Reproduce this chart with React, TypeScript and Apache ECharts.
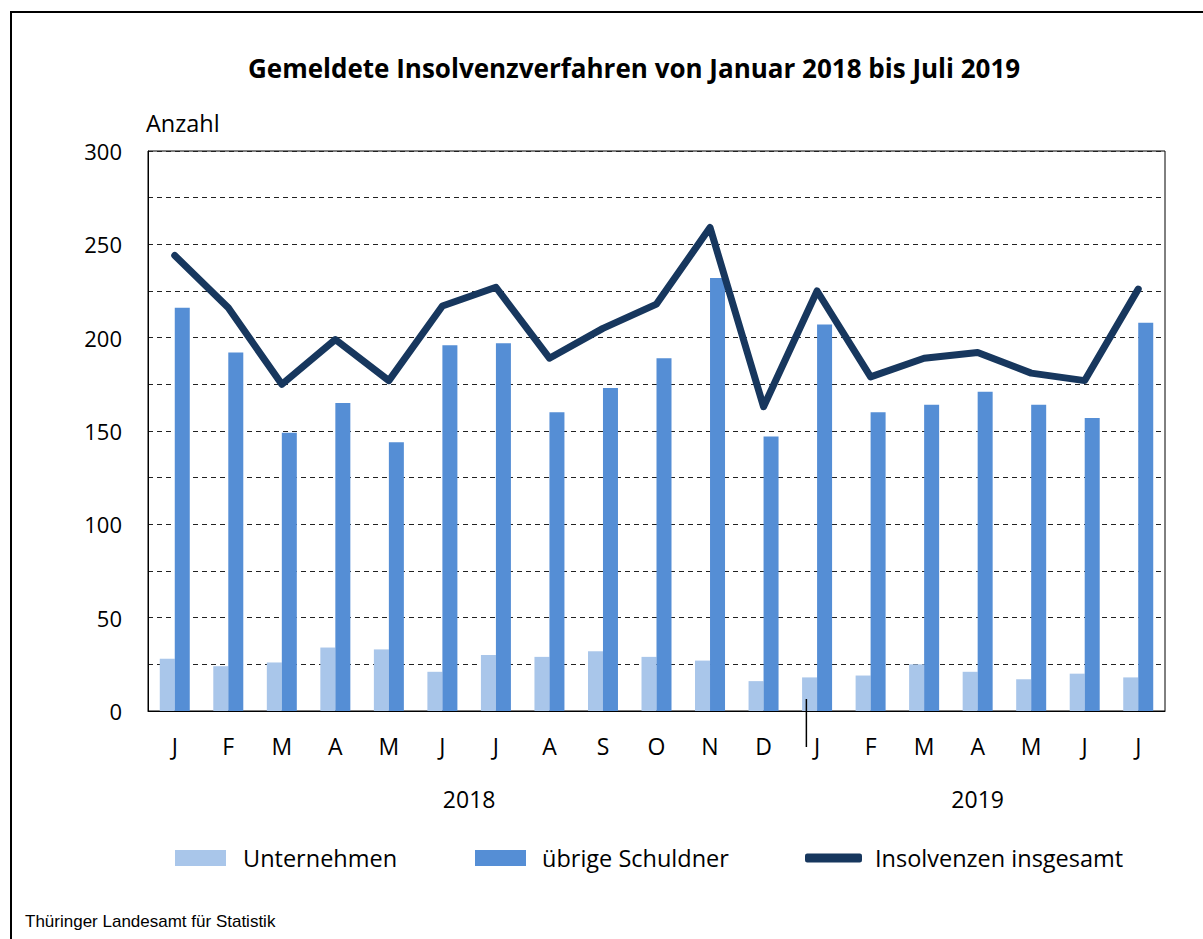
import React, { useEffect, useRef } from "react";
import * as echarts from "echarts";

const months = ["J", "F", "M", "A", "M", "J", "J", "A", "S", "O", "N", "D", "J", "F", "M", "A", "M", "J", "J"];
const unternehmen = [28, 24, 26, 34, 33, 21, 30, 29, 32, 29, 27, 16, 18, 19, 25, 21, 17, 20, 18];
const uebrige = [216, 192, 149, 165, 144, 196, 197, 160, 173, 189, 232, 147, 207, 160, 164, 171, 164, 157, 208];
const insgesamt = [244, 216, 175, 199, 177, 217, 227, 189, 205, 218, 259, 163, 225, 179, 189, 192, 181, 177, 226];
const years = [
  { label: "2018", from: 0, to: 11 },
  { label: "2019", from: 12, to: 18 },
];
const yTicks = [0, 50, 100, 150, 200, 250, 300];

const FONT = "'Open Sans'";

export default function App() {
  const ref = useRef<HTMLDivElement>(null);
  useEffect(() => {
    document.body.style.margin = "0";
    const chart = echarts.init(ref.current!, null, { renderer: "svg" });
    const legendText = { fontFamily: FONT, fontSize: 23.5, color: "#000" };
    const option: any = {
      animation: false,
      backgroundColor: "#fff",
      textStyle: { fontFamily: FONT },
      title: {
        text: "Gemeldete Insolvenzverfahren von Januar 2018 bis Juli 2019",
        left: 243,
        top: 50,
        textStyle: { fontFamily: FONT, fontSize: 26, fontWeight: "bold", color: "#000" },
      },
      grid: {
        left: 148,
        right: 38,
        top: 151,
        bottom: 228,
        show: true,
        borderColor: "#000",
        borderWidth: 1,
      },
      legend: [
        {
          data: [{ name: "Unternehmen", icon: "rect" }],
          left: 170,
          top: 841,
          itemWidth: 51,
          itemHeight: 16,
          textStyle: { ...legendText, padding: [0, 0, 0, 12] },
        },
        {
          data: [{ name: "übrige Schuldner", icon: "rect" }],
          left: 470,
          top: 841,
          itemWidth: 51,
          itemHeight: 16,
          textStyle: { ...legendText, padding: [0, 0, 0, 11] },
        },
        {
          data: [{ name: "Insolvenzen insgesamt", icon: "roundRect" }],
          left: 800,
          top: 841,
          itemWidth: 57,
          itemHeight: 9,
          textStyle: { ...legendText, padding: [0, 0, 0, 8] },
        },
      ],
      xAxis: {
        type: "category",
        data: months,
        axisLine: { show: true, lineStyle: { color: "#000" } },
        axisTick: { show: false },
        axisLabel: { fontFamily: FONT, fontSize: 23, color: "#000", margin: 23 },
      },
      yAxis: {
        type: "value",
        min: 0,
        max: 300,
        interval: 25,
        axisLine: { show: true, lineStyle: { color: "#000" } },
        axisTick: { show: false },
        axisLabel: {
          fontFamily: FONT,
          fontSize: 22,
          color: "#000",
          margin: 26,
          formatter: (v: number) => (yTicks.includes(v) ? String(v) : ""),
        },
        splitLine: { show: true, lineStyle: { color: "#222", type: [5, 4], width: 1 } },
      },
      series: [
        {
          name: "Unternehmen",
          type: "bar",
          data: unternehmen,
          barWidth: 15,
          barGap: "0%",
          itemStyle: { color: "#a9c6ea" },
        },
        {
          name: "übrige Schuldner",
          type: "bar",
          data: uebrige,
          barWidth: 15,
          barGap: "0%",
          itemStyle: { color: "#558ed5" },
        },
        {
          name: "Insolvenzen insgesamt",
          type: "line",
          data: insgesamt,
          showSymbol: false,
          symbol: "none",
          lineStyle: { color: "#17375e", width: 7, join: "round", cap: "round" },
          itemStyle: { color: "#17375e" },
          z: 5,
        },
      ],
    };
    chart.setOption(option);

    const graphics: any[] = [
      {
        type: "rect",
        shape: { x: 11, y: 12, width: 1220, height: 960 },
        style: { fill: "none", stroke: "#000", lineWidth: 2 },
        silent: true,
      },
      {
        type: "text",
        left: 146,
        top: 111,
        style: { text: "Anzahl", font: `23.5px ${FONT}`, fill: "#000" },
      },
      {
        type: "text",
        left: 25,
        top: 913,
        style: { text: "Thüringer Landesamt für Statistik", font: `17px "Liberation Sans"`, fill: "#000" },
      },
    ];
    years.forEach((y) => {
      const a = chart.convertToPixel({ xAxisIndex: 0 }, y.from) as number;
      const b = chart.convertToPixel({ xAxisIndex: 0 }, y.to) as number;
      graphics.push({
        type: "text",
        x: (a + b) / 2,
        y: 799,
        style: {
          text: y.label,
          font: `23px ${FONT}`,
          fill: "#000",
          align: "center",
          verticalAlign: "middle",
        },
      });
    });
    const p11 = chart.convertToPixel({ xAxisIndex: 0 }, 11) as number;
    const p12 = chart.convertToPixel({ xAxisIndex: 0 }, 12) as number;
    const sepX = p11 + (p12 - p11) * 0.8;
    graphics.push({
      type: "line",
      shape: { x1: sepX, y1: 699, x2: sepX, y2: 747 },
      style: { stroke: "#000", lineWidth: 1.5 },
      z: 10,
    });
    chart.setOption({ graphic: graphics });

    return () => chart.dispose();
  }, []);
  return <div ref={ref} style={{ width: 1203, height: 939 }} />;
}
